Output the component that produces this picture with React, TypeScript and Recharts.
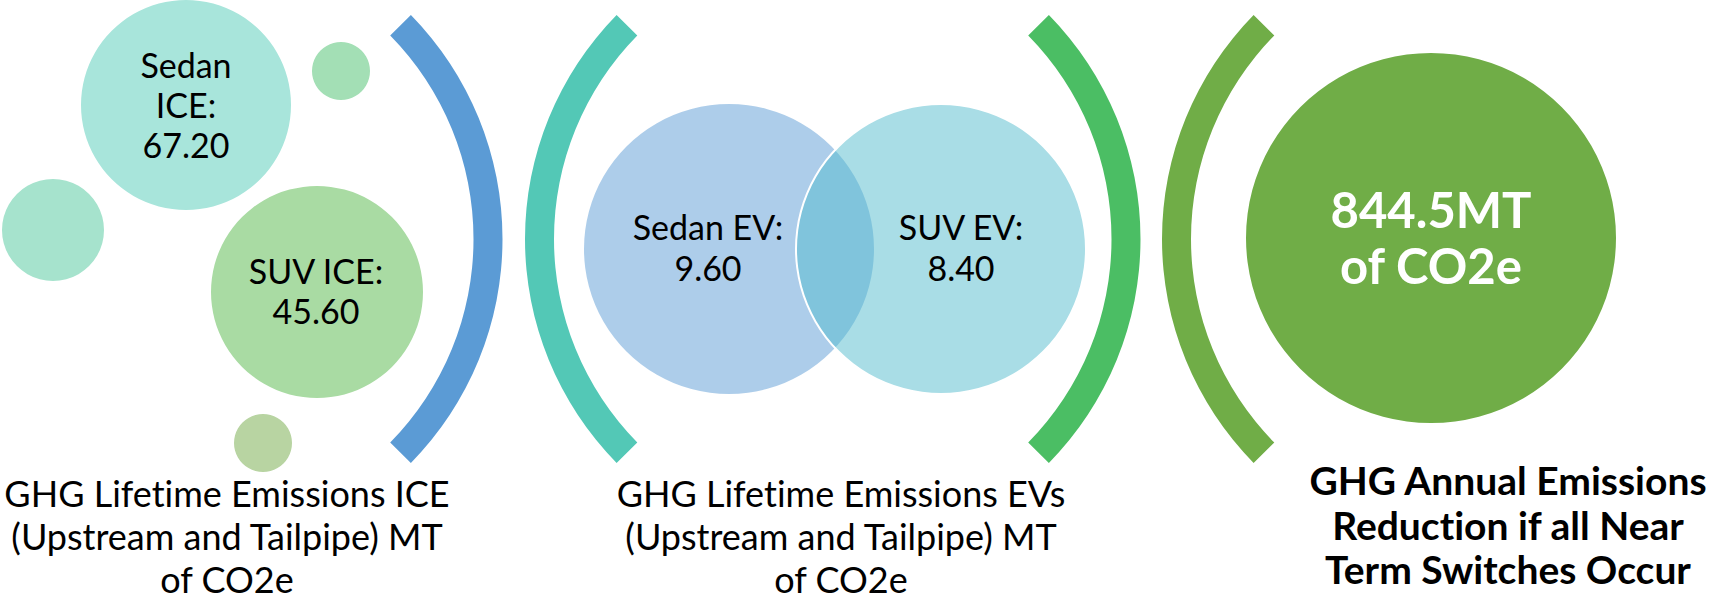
import { PieChart, Pie, Cell, Label } from 'recharts';

// values shown in the diagram (MT of CO2e)
const iceNames = ['Sedan ICE', 'SUV ICE'];
const iceValues = [67.2, 45.6];
const evNames = ['Sedan EV', 'SUV EV'];
const evValues = [9.6, 8.4];
const annualReduction = 844.5;

const captions = [
  ['GHG Lifetime Emissions ICE', '(Upstream and Tailpipe) MT', 'of CO2e'],
  ['GHG Lifetime Emissions EVs', '(Upstream and Tailpipe) MT', 'of CO2e'],
  ['GHG Annual Emissions', 'Reduction if all Near', 'Term Switches Occur'],
];

const FONT = 'Lato, "Open Sans", sans-serif';
const W = 1713;
const H = 600;

// bracket arcs ")" "(" ")" "("
const ARC_IN = 290.5;
const ARC_OUT = 319.5;
const ARC_CY = 239;
const ARC_HALF = 44.5;
const arcs = [
  { cx: 183, right: true, fill: '#5B9BD5' },
  { cx: 844.5, right: false, fill: '#53C8B6' },
  { cx: 821, right: true, fill: '#4BBE64' },
  { cx: 1481.5, right: false, fill: '#70AD47' },
];

const bubbles = [
  { cx: 341, cy: 71, r: 29, fill: '#A3DFB5' },
  { cx: 53, cy: 230, r: 51, fill: '#A6E3CD' },
  { cx: 263, cy: 443, r: 29, fill: '#B8D4A2' },
];

type Block = { x: number; y: number; lines: string[]; size: number; step: number; bold?: boolean; color?: string };

const drawText = (b: Block) => () =>
  (
    <text
      x={b.x}
      textAnchor="middle"
      fontFamily={FONT}
      fontSize={b.size}
      fontWeight={b.bold ? 700 : 400}
      fill={b.color || '#000'}
      style={{ fontVariantLigatures: 'none' }}
    >
      {b.lines.map((l, i) => (
        <tspan key={i} x={b.x} y={b.y + i * b.step}>
          {l}
        </tspan>
      ))}
    </text>
  );

const one = (v: number) => [{ value: v }];

const App = () => {
  const [sedanIce, suvIce] = iceValues;
  const [sedanEv, suvEv] = evValues;

  return (
    <div style={{ position: 'absolute', left: 0, top: 0, width: W, height: H, background: '#fff' }}>
      <PieChart width={W} height={H} margin={{ top: 0, right: 0, bottom: 0, left: 0 }}>
        {bubbles.map((b, i) => (
          <Pie
            key={'b' + i}
            data={one(1)}
            dataKey="value"
            cx={b.cx}
            cy={b.cy}
            outerRadius={b.r}
            stroke="none"
            isAnimationActive={false}
          >
            <Cell fill={b.fill} />
          </Pie>
        ))}

        <Pie data={one(sedanIce)} name={iceNames[0]} dataKey="value" cx={186} cy={105} outerRadius={105} stroke="none" isAnimationActive={false}>
          <Cell fill="#A8E5DB" />
          <Label content={drawText({ x: 186, y: 78, lines: ['Sedan', 'ICE:', sedanIce.toFixed(2)], size: 34, step: 40 })} />
        </Pie>
        <Pie data={one(suvIce)} name={iceNames[1]} dataKey="value" cx={317} cy={292} outerRadius={106} stroke="none" isAnimationActive={false}>
          <Cell fill="#A9DBA3" />
          <Label content={drawText({ x: 316, y: 284, lines: ['SUV ICE:', suvIce.toFixed(2)], size: 34, step: 40 })} />
        </Pie>

        {arcs.map((a, i) => (
          <Pie
            key={'a' + i}
            data={one(1)}
            dataKey="value"
            cx={a.cx}
            cy={ARC_CY}
            innerRadius={ARC_IN}
            outerRadius={ARC_OUT}
            startAngle={a.right ? ARC_HALF : 180 - ARC_HALF}
            endAngle={a.right ? -ARC_HALF : 180 + ARC_HALF}
            stroke="none"
            isAnimationActive={false}
          >
            <Cell fill={a.fill} />
          </Pie>
        ))}

        <Pie data={one(sedanEv)} name={evNames[0]} dataKey="value" cx={729} cy={249} outerRadius={145} stroke="none" isAnimationActive={false}>
          <Cell fill="#5B9BD5" fillOpacity={0.5} />
        </Pie>
        <Pie data={one(suvEv)} name={evNames[1]} dataKey="value" cx={941} cy={249} outerRadius={145} stroke="none" isAnimationActive={false}>
          <Cell fill="#53BBCD" fillOpacity={0.5} />
        </Pie>
        {/* white outline of the SUV EV circle, visible where it crosses the sedan circle */}
        <Pie data={one(suvEv)} dataKey="value" cx={941} cy={249} innerRadius={144} outerRadius={146} stroke="none" isAnimationActive={false}>
          <Cell fill="#fff" />
          <Label content={drawText({ x: 708, y: 240, lines: ['Sedan EV:', sedanEv.toFixed(2)], size: 34, step: 41 })} />
          <Label content={drawText({ x: 961, y: 240, lines: ['SUV EV:', suvEv.toFixed(2)], size: 34, step: 41 })} />
        </Pie>

        <Pie data={one(annualReduction)} name="Annual reduction" dataKey="value" cx={1431} cy={238} outerRadius={185} stroke="none" isAnimationActive={false}>
          <Cell fill="#70AD47" />
          <Label
            content={drawText({
              x: 1431,
              y: 228,
              lines: [annualReduction.toFixed(1) + 'MT', 'of CO2e'],
              size: 49,
              step: 56,
              bold: true,
              color: '#fff',
            })}
          />
          <Label content={drawText({ x: 227, y: 507, lines: captions[0], size: 36, step: 43 })} />
          <Label content={drawText({ x: 841, y: 507, lines: captions[1], size: 36, step: 43 })} />
          <Label content={drawText({ x: 1508, y: 495, lines: captions[2], size: 39, step: 44.5, bold: true })} />
        </Pie>
      </PieChart>
    </div>
  );
};

export default App;
